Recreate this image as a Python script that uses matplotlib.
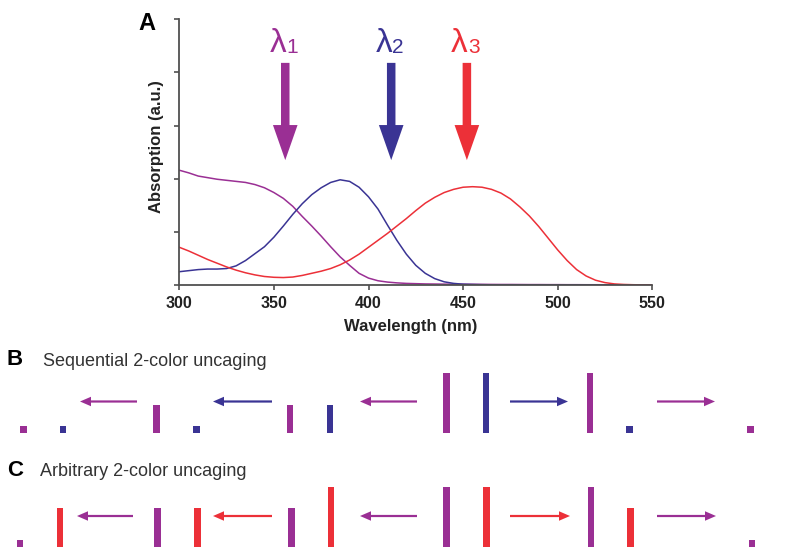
import matplotlib
matplotlib.use("Agg")
import matplotlib.pyplot as plt
from matplotlib.patches import FancyArrow

plt.rcParams['font.family'] = ['Liberation Sans', 'DejaVu Sans']

# ---------------- data ----------------
wavelength = list(range(300, 551, 5))
abs_lambda1 = [2.16, 2.11, 2.05, 2.02, 1.99, 1.97, 1.95, 1.93, 1.89, 1.83,
               1.74, 1.63, 1.48, 1.29, 1.11, 0.92, 0.72, 0.53, 0.37, 0.22,
               0.13, 0.08, 0.055, 0.04, 0.03, 0.025, 0.02, 0.018, 0.016, 0.015,
               0.014, 0.013, 0.012, 0.011, 0.010, 0.010, 0.009, 0.008, 0.008, 0.007,
               0.007, 0.006, 0.006, 0.005, 0.005, 0.004, 0.004, 0.003, 0.003, 0.002,
               0.002]
abs_lambda2 = [0.25, 0.27, 0.29, 0.30, 0.30, 0.31, 0.36, 0.46, 0.59, 0.72,
               0.90, 1.11, 1.33, 1.53, 1.70, 1.83, 1.93, 1.98, 1.95, 1.84,
               1.66, 1.43, 1.13, 0.84, 0.58, 0.37, 0.22, 0.12, 0.06, 0.03,
               0.015, 0.01, 0.006, 0.004, 0.003, 0.003, 0.002, 0.002, 0.002, 0.002,
               0.001, 0.001, 0.001, 0.001, 0.001, 0.001, 0.0, 0.0, 0.0, 0.0,
               0.0]
abs_lambda3 = [0.71, 0.64, 0.56, 0.48, 0.41, 0.34, 0.28, 0.23, 0.19, 0.16,
               0.145, 0.14, 0.15, 0.18, 0.22, 0.26, 0.31, 0.38, 0.47, 0.58,
               0.71, 0.84, 0.97, 1.11, 1.25, 1.40, 1.54, 1.65, 1.74, 1.80,
               1.84, 1.85, 1.84, 1.80, 1.73, 1.62, 1.47, 1.30, 1.10, 0.88,
               0.66, 0.46, 0.29, 0.17, 0.09, 0.045, 0.02, 0.01, 0.005, 0.002,
               0.0]
x_ticks = [300, 350, 400, 450, 500, 550]
excitation_nm = [356, 412, 452]
excitation_names = ['1', '2', '3']

# panel B / C schematic elements (pixel layout of the figure)
seq_bar_x = [23.5, 63, 156.5, 196.5, 290, 330, 446.5, 486, 590, 629.5, 750.5]
seq_bar_len = [6.5, 6.5, 28, 6.5, 28, 28, 60, 60, 60, 6.5, 6.5]
seq_bar_kind = ['l1', 'l2', 'l1', 'l2', 'l1', 'l2', 'l1', 'l2', 'l1', 'l2', 'l1']
seq_arrow_from = [137, 272, 417, 510, 657]
seq_arrow_to = [80, 213, 360, 568, 715]
seq_arrow_kind = ['l1', 'l2', 'l1', 'l2', 'l1']

arb_bar_x = [20, 60, 157.5, 197.5, 291.5, 331, 446.5, 486.5, 591, 630.5, 752]
arb_bar_len = [12, 44, 44, 44, 44, 65, 65, 65, 65, 44, 12]
arb_bar_kind = ['l1', 'l3', 'l1', 'l3', 'l1', 'l3', 'l1', 'l3', 'l1', 'l3', 'l1']
arb_arrow_from = [133, 272, 417, 510, 657]
arb_arrow_to = [77, 213, 360, 570, 716]
arb_arrow_kind = ['l1', 'l3', 'l1', 'l3', 'l1']

colors = {'l1': '#9A2F94', 'l2': '#3A3494', 'l3': '#EC3038'}
exc_kinds = ['l1', 'l2', 'l3']

# ---------------- figure ----------------
W, H = 787, 547
fig = plt.figure(figsize=(W / 100, H / 100), dpi=100)

ax = fig.add_axes([179.3 / W, 1 - 285 / H, (652.3 - 179.3) / W, (285 - 19.3) / H])
ax.plot(wavelength, abs_lambda1, color=colors['l1'], lw=1.1)
ax.plot(wavelength, abs_lambda2, color=colors['l2'], lw=1.1)
ax.plot(wavelength, abs_lambda3, color=colors['l3'], lw=1.1)
ax.set_xlim(300, 550)
ax.set_ylim(0, 5)
ax.set_xticks(x_ticks)
ax.set_yticks(range(6))
ax.set_yticklabels([])
for s in ['top', 'right']:
    ax.spines[s].set_visible(False)
for s in ['left', 'bottom']:
    ax.spines[s].set_color('#505050')
    ax.spines[s].set_linewidth(1.3)
ax.tick_params(direction='out', length=3.5, width=1.2, color='#505050',
               labelsize=11.5, pad=4.5)
for lab in ax.get_xticklabels():
    lab.set_fontweight('bold')
    lab.set_color('#222222')

for nm, name, kind in zip(excitation_nm, excitation_names, exc_kinds):
    c = colors[kind]
    ax.add_patch(FancyArrow(nm, 4.18, 0, -(4.18 - 2.35), width=4.5,
                            head_width=13, head_length=0.66,
                            length_includes_head=True, color=c, lw=0))
    ax.text(nm + 0.5, 4.39, 'λ', color=c, fontsize=24, ha='right', va='baseline')
    ax.text(nm + 0.5, 4.37, name, color=c, fontsize=15, ha='left', va='baseline')

# overlay in pixel coordinates
ov = fig.add_axes([0, 0, 1, 1])
ov.set_xlim(0, W)
ov.set_ylim(H, 0)
ov.axis('off')
ov.patch.set_visible(False)

ov.text(147, 23.5, 'A', fontsize=17, fontweight='bold', ha='center', va='center')
ov.text(157, 146.5, 'Absorption (a.u.)', fontsize=12, fontweight='bold',
        rotation=90, ha='center', va='center', color='#222222')
ov.text(411, 327, 'Wavelength (nm)', fontsize=12, fontweight='bold',
        ha='center', va='center', color='#222222')

ov.text(7, 365, 'B', fontsize=16, fontweight='bold', ha='left', va='baseline')
ov.text(43, 366, 'Sequential 2-color uncaging', fontsize=13, ha='left',
        va='baseline', color='#333333')
ov.text(7, 475.5, 'C', fontsize=16, fontweight='bold', ha='left', va='baseline')
ov.text(40, 476, 'Arbitrary 2-color uncaging', fontsize=13, ha='left',
        va='baseline', color='#333333')


def draw_row(bx, blen, bkind, afrom, ato, akind, base, ay):
    ov.bar(bx, [-h for h in blen], width=6.5, bottom=base,
           color=[colors[k] for k in bkind], linewidth=0)
    for x0, x1, k in zip(afrom, ato, akind):
        ov.add_patch(FancyArrow(x0, ay, x1 - x0, 0, width=2.2, head_width=9.5,
                                head_length=11, length_includes_head=True,
                                color=colors[k], lw=0))


draw_row(seq_bar_x, seq_bar_len, seq_bar_kind, seq_arrow_from, seq_arrow_to,
         seq_arrow_kind, 432.5, 401.5)
draw_row(arb_bar_x, arb_bar_len, arb_bar_kind, arb_arrow_from, arb_arrow_to,
         arb_arrow_kind, 552, 516)

fig.savefig('out.png', dpi=100)
